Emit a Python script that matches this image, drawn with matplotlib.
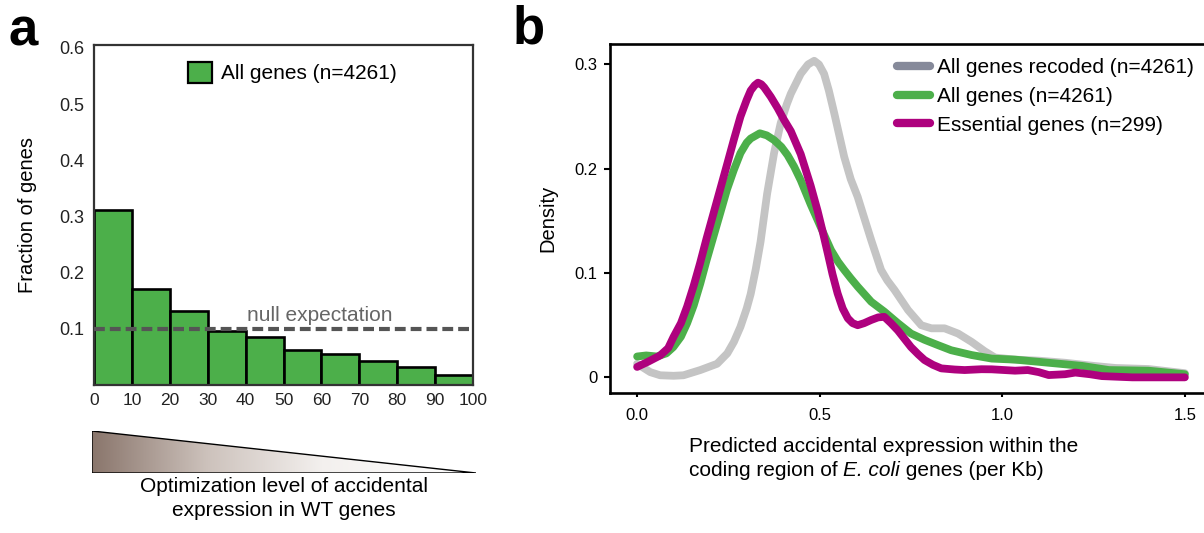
import numpy as np
import matplotlib
matplotlib.use("Agg")
import matplotlib.pyplot as plt
from matplotlib.colors import LinearSegmentedColormap
from matplotlib.patches import Polygon, Patch
from matplotlib.lines import Line2D
from matplotlib.transforms import offset_copy

plt.rcParams['font.family'] = ['Liberation Sans', 'DejaVu Sans']

# ---------------- data: panel a ----------------
bin_edges = [0, 10, 20, 30, 40, 50, 60, 70, 80, 90, 100]
fractions = [0.311, 0.171, 0.131, 0.096, 0.086, 0.0625, 0.056, 0.043, 0.032, 0.018]
null_expectation = 0.1
hist_label = "All genes (n=4261)"
a_xticks = [0, 10, 20, 30, 40, 50, 60, 70, 80, 90, 100]
a_yticks = [0.1, 0.2, 0.3, 0.4, 0.5, 0.6]

# ---------------- data: panel b ----------------
recoded_x = [0.0, 0.036, 0.063, 0.10, 0.127, 0.173, 0.219, 0.247, 0.265, 0.283, 0.30,
             0.311, 0.325, 0.338, 0.356, 0.375, 0.393, 0.41, 0.421, 0.448, 0.468, 0.485,
             0.498, 0.512, 0.525, 0.54, 0.567, 0.585, 0.604, 0.62, 0.641, 0.668, 0.685,
             0.705, 0.742, 0.778, 0.806, 0.842, 0.879, 0.916, 0.952, 0.98, 1.035, 1.1,
             1.172, 1.25, 1.31, 1.40, 1.45, 1.5]
recoded_y = [0.013, 0.005, 0.002, 0.0015, 0.002, 0.007, 0.013, 0.023, 0.034, 0.0485, 0.066,
             0.08, 0.104, 0.13, 0.176, 0.215, 0.2435, 0.262, 0.272, 0.291, 0.300, 0.3035,
             0.300, 0.291, 0.275, 0.253, 0.2115, 0.19, 0.173, 0.155, 0.1316, 0.103, 0.093,
             0.0837, 0.0645, 0.050, 0.047, 0.047, 0.042, 0.034, 0.025, 0.019, 0.017, 0.016,
             0.014, 0.011, 0.009, 0.008, 0.006, 0.004]

all_x = [0.0, 0.025, 0.054, 0.08, 0.099, 0.12, 0.137, 0.155, 0.173, 0.19, 0.209, 0.228,
         0.246, 0.265, 0.283, 0.30, 0.311, 0.336, 0.355, 0.375, 0.395, 0.412, 0.43, 0.448,
         0.475, 0.494, 0.513, 0.531, 0.55, 0.567, 0.585, 0.604, 0.641, 0.677, 0.714, 0.75,
         0.787, 0.823, 0.86, 0.916, 0.971, 1.035, 1.127, 1.218, 1.292, 1.40, 1.5]
all_y = [0.020, 0.021, 0.020, 0.023, 0.029, 0.039, 0.052, 0.069, 0.090, 0.112, 0.135, 0.158,
         0.18, 0.199, 0.215, 0.225, 0.229, 0.234, 0.232, 0.2275, 0.221, 0.213, 0.202, 0.189,
         0.166, 0.151, 0.136, 0.122, 0.111, 0.103, 0.095, 0.087, 0.0725, 0.063, 0.052, 0.042,
         0.036, 0.031, 0.026, 0.0214, 0.018, 0.017, 0.014, 0.011, 0.007, 0.0064, 0.003]

ess_x = [0.0, 0.03, 0.063, 0.085, 0.10, 0.12, 0.137, 0.155, 0.172, 0.19, 0.209, 0.228,
         0.247, 0.265, 0.283, 0.30, 0.311, 0.322, 0.331, 0.34, 0.348, 0.366, 0.385, 0.402,
         0.421, 0.448, 0.475, 0.494, 0.508, 0.522, 0.535, 0.549, 0.563, 0.577, 0.59, 0.604,
         0.622, 0.641, 0.66, 0.677, 0.695, 0.714, 0.732, 0.75, 0.77, 0.787, 0.81, 0.833,
         0.87, 0.897, 0.943, 0.971, 1.035, 1.07, 1.1, 1.127, 1.172, 1.2, 1.24, 1.273, 1.356,
         1.5]
ess_y = [0.010, 0.015, 0.021, 0.028, 0.039, 0.052, 0.068, 0.088, 0.109, 0.133, 0.157, 0.181,
         0.205, 0.228, 0.25, 0.266, 0.275, 0.280, 0.2825, 0.281, 0.278, 0.269, 0.258, 0.247,
         0.236, 0.214, 0.184, 0.160, 0.14, 0.119, 0.099, 0.0805, 0.066, 0.0566, 0.052, 0.050,
         0.052, 0.055, 0.0575, 0.058, 0.052, 0.045, 0.037, 0.029, 0.022, 0.0166, 0.012,
         0.0086, 0.0075, 0.007, 0.0078, 0.0077, 0.0064, 0.007, 0.005, 0.0022, 0.003, 0.0046,
         0.003, 0.0012, 0.0, 0.0]

series_labels = ["All genes recoded (n=4261)", "All genes (n=4261)", "Essential genes (n=299)"]
line_colors = ["#c4c4c4", "#4caf4a", "#ae017e"]
legend_colors = ["#868a9a", "#4caf4a", "#ae017e"]
b_xticks = [0.0, 0.5, 1.0, 1.5]
b_xticklabels = ["0.0", "0.5", "1.0", "1.5"]
b_yticks = [0.0, 0.1, 0.2, 0.3]
b_yticklabels = ["0", "0.1", "0.2", "0.3"]

W, H = 1204, 533
fig = plt.figure(figsize=(W / 100, H / 100), dpi=100)


def fx(px):
    return px / W


def fy(py):
    return 1 - py / H


# ---------------- panel a ----------------
axa = fig.add_axes([fx(94), fy(385), fx(473) - fx(94), fy(45) - fy(385)])
widths = np.diff(bin_edges)
axa.bar(bin_edges[:-1], fractions, width=widths, align='edge', color='#4caf4a',
        edgecolor='black', linewidth=1.9, label=hist_label, zorder=2)
axa.plot([0, 100], [null_expectation, null_expectation], color='#555555', lw=3.0,
         dashes=(2.6, 1.2), zorder=3)
axa.text(59.5, null_expectation + 0.006, "null expectation", color='#666666', fontsize=15,
         ha='center', va='bottom')
axa.set_xlim(0, 100)
axa.set_ylim(0, 0.605)
axa.set_xticks(a_xticks)
axa.set_yticks(a_yticks)
axa.set_yticklabels([f"{v:.1f}" for v in a_yticks])
axa.tick_params(axis='x', length=0, pad=6, labelsize=12.5, labelcolor='#222222')
axa.tick_params(axis='y', length=0, pad=7, labelsize=13, labelcolor='#222222')
for s in axa.spines.values():
    s.set_color('#333333')
    s.set_linewidth(1.6)
axa.set_ylabel("Fraction of genes", fontsize=14.5, labelpad=16)
axa.legend(handles=[Patch(facecolor='#4caf4a', edgecolor='black', linewidth=1.6)],
           labels=[hist_label], loc='upper left', bbox_to_anchor=(fx(188), fy(62)),
           bbox_transform=fig.transFigure, frameon=False, fontsize=15,
           handlelength=1.15, handleheight=1.15, handletextpad=0.45, borderpad=0,
           borderaxespad=0)

# gradient triangle
axg = fig.add_axes([fx(92), fy(473), fx(476) - fx(92), fy(431) - fy(473)])
cmap = LinearSegmentedColormap.from_list(
    'grad', [(0.0, '#8a766c'), (0.3, '#cdc2bc'), (0.6, '#f3f0ee'), (1.0, '#ffffff')])
grad = np.linspace(0, 1, 256).reshape(1, -1)
im = axg.imshow(grad, aspect='auto', cmap=cmap, extent=[0, 1, 0, 1])
tri = Polygon([[0, 0], [0, 1], [1, 0]], closed=True, facecolor='none',
              edgecolor='black', linewidth=1.0)
axg.add_patch(tri)
im.set_clip_path(tri)
axg.set_xlim(0, 1)
axg.set_ylim(0, 1)
axg.axis('off')
fig.text(fx(284), fy(487), "Optimization level of accidental", fontsize=15,
         ha='center', va='center')
fig.text(fx(284), fy(511), "expression in WT genes", fontsize=15,
         ha='center', va='center')

# ---------------- panel b ----------------
axb = fig.add_axes([fx(610), fy(393), 1 - fx(610) + 0.002, fy(44) - fy(393)])
for xs, ys, c, lab in zip([recoded_x, all_x, ess_x], [recoded_y, all_y, ess_y],
                          line_colors, series_labels):
    axb.plot(xs, ys, color=c, lw=5.6, solid_capstyle='round', solid_joinstyle='round',
             label=lab)
axb.set_xlim(-0.0743, 1.559)
axb.set_ylim(-0.015, 0.3196)
axb.set_xticks(b_xticks)
axb.set_xticklabels(b_xticklabels)
axb.set_yticks(b_yticks)
axb.set_yticklabels(b_yticklabels)
axb.tick_params(axis='both', length=4, width=1.5, labelsize=12, pad=5)
axb.tick_params(axis='x', length=3, pad=8)
for s in ['left', 'bottom', 'top']:
    axb.spines[s].set_linewidth(1.9)
axb.spines['right'].set_visible(False)
axb.set_ylabel("Density", fontsize=14.5, labelpad=12)
handles = [Line2D([0], [0], color=c, lw=6, solid_capstyle='round') for c in legend_colors]
axb.legend(handles=handles, labels=series_labels, loc='upper left',
           bbox_to_anchor=(fx(897), fy(58)), bbox_transform=fig.transFigure,
           frameon=False, fontsize=15, handlelength=1.6, handletextpad=0.3,
           labelspacing=0.47, borderpad=0, borderaxespad=0)
fig.text(fx(689), fy(446), "Predicted accidental expression within the", fontsize=15,
         ha='left', va='center')

# second line with italic species name, pieces placed one after another
renderer = fig.canvas.get_renderer()
pieces = [("coding region of ", 'normal'), ("E. coli", 'italic'), (" genes (per Kb)", 'normal')]
xpos = 689
for txt, style in pieces:
    t = fig.text(fx(xpos), fy(471), txt, fontsize=15, style=style, ha='left', va='center')
    bb = t.get_window_extent(renderer=renderer)
    xpos += bb.width

# panel letters
fig.text(fx(8), fy(46), "a", fontsize=38, fontweight='bold', ha='left', va='baseline')
fig.text(fx(513), fy(44), "b", fontsize=38, fontweight='bold', ha='left', va='baseline')

fig.savefig("out.png", dpi=100)
